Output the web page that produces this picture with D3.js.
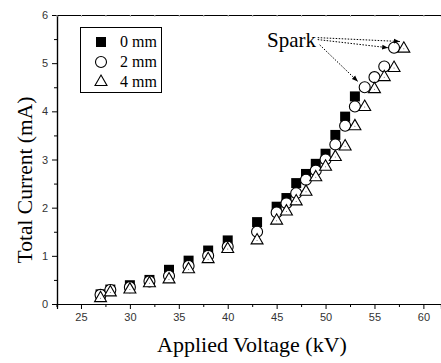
<!DOCTYPE html>
<html>
<head>
<meta charset="utf-8">
<script src="https://cdn.jsdelivr.net/npm/d3@7"></script>
<style>
  body { margin: 0; background: #fff; }
  svg { display: block; }
  .serif { font-family: "Liberation Serif", Tinos, "Times New Roman", Times, serif; }
  .sans { font-family: "Liberation Sans", Arimo, Arial, Helvetica, sans-serif; }
</style>
</head>
<body>
<script>
// applied voltage (kV) and total current (mA) for each gap
var volt0 = [27, 28, 30, 32, 34, 36, 38, 40, 43, 45, 46, 47, 48, 49, 50, 51, 52, 53];
var cur0 = [0.2, 0.3, 0.39, 0.5, 0.71, 0.9, 1.11, 1.32, 1.7, 2.02, 2.2, 2.51, 2.7, 2.91, 3.12, 3.51, 3.89, 4.31];

var volt2 = [27, 28, 30, 32, 34, 36, 38, 40, 43, 45, 46, 47, 48, 49, 50, 51, 52, 53, 54, 55, 56, 57];
var cur2 = [0.19, 0.29, 0.35, 0.47, 0.58, 0.79, 1.0, 1.19, 1.5, 1.9, 2.09, 2.3, 2.58, 2.77, 3.0, 3.31, 3.7, 4.1, 4.5, 4.71, 4.93, 5.32];

var volt4 = [27, 28, 30, 32, 34, 36, 38, 40, 43, 45, 46, 47, 48, 49, 50, 51, 52, 53, 54, 55, 56, 57, 58];
var cur4 = [0.12, 0.24, 0.3, 0.43, 0.51, 0.72, 0.93, 1.14, 1.32, 1.73, 1.92, 2.13, 2.33, 2.63, 2.85, 3.05, 3.27, 3.69, 4.09, 4.46, 4.71, 4.9, 5.3];

var seriesNames = ["0 mm", "2 mm", "4 mm"];
var xTicks = [25, 30, 35, 40, 45, 50, 55, 60];
var yTicks = [0, 1, 2, 3, 4, 5, 6];

var W = 441, H = 363;
var svg = d3.select(document.body).append("svg")
    .attr("width", W)
    .attr("height", H);

var x = d3.scaleLinear().domain([22.55, 61.8]).range([57, 441]);
var y = d3.scaleLinear().domain([0, 6]).range([304, 15]);

// axes
var xAxis = d3.axisBottom(x).tickValues(xTicks).tickSize(5).tickPadding(4).tickFormat(d3.format("d"));
var xMinor = d3.axisBottom(x).tickValues(d3.range(22.5, 62, 2.5).filter(v => v % 5 != 0)).tickSize(3).tickFormat("");
var yAxis = d3.axisLeft(y).tickValues(yTicks).tickSize(5).tickPadding(4).tickFormat(d3.format("d"));
var yMinor = d3.axisLeft(y).tickValues(d3.range(0.5, 6, 1)).tickSize(3).tickFormat("");
var xTop = d3.axisBottom(x).tickValues(d3.range(22.5, 62, 2.5)).tickSize(2).tickFormat("");

svg.append("g").attr("transform", "translate(0,304)").call(xMinor);
var gx = svg.append("g").attr("transform", "translate(0,304)").call(xAxis);
svg.append("g").attr("transform", "translate(57,0)").call(yMinor);
var gy = svg.append("g").attr("transform", "translate(57,0)").call(yAxis);
var gt = svg.append("g").attr("transform", "translate(0,15)").call(xTop);
gt.selectAll(".tick line").attr("stroke", "#bbb");

svg.selectAll("g").attr("font-family", null);
svg.selectAll(".domain").attr("stroke", "#000").attr("stroke-width", 1.2);
svg.selectAll(".tick line").filter(function() { return this.getAttribute("stroke") != "#bbb"; })
    .attr("stroke", "#000");
svg.selectAll(".tick text").attr("class", "sans").attr("font-size", 11).attr("fill", "#333");
gx.selectAll(".tick text").attr("dy", "0.75em");

// axis titles
svg.append("text")
    .attr("class", "serif")
    .attr("x", 252).attr("y", 352)
    .attr("text-anchor", "middle")
    .attr("font-size", 22)
    .text("Applied Voltage (kV)");

svg.append("text")
    .attr("class", "serif")
    .attr("transform", "translate(32,180) rotate(-90)")
    .attr("text-anchor", "middle")
    .attr("font-size", 21.5)
    .text("Total Current (mA)");

// markers
var sq = d3.symbol().type(d3.symbolSquare).size(100);
var tri = d3.symbol().type(d3.symbolTriangle).size(62);

var plot = svg.append("g");

plot.selectAll("path.s0")
    .data(d3.zip(volt0, cur0))
    .join("path")
    .attr("class", "s0")
    .attr("transform", d => "translate(" + x(d[0]) + "," + y(d[1]) + ")")
    .attr("d", sq)
    .attr("fill", "#000");

plot.selectAll("circle.s2")
    .data(d3.zip(volt2, cur2))
    .join("circle")
    .attr("class", "s2")
    .attr("cx", d => x(d[0]))
    .attr("cy", d => y(d[1]))
    .attr("r", 5.5)
    .attr("fill", "#fff")
    .attr("stroke", "#000")
    .attr("stroke-width", 1.1);

var t4 = plot.selectAll("g.s4")
    .data(d3.zip(volt4, cur4))
    .join("g")
    .attr("class", "s4")
    .attr("transform", d => "translate(" + x(d[0]) + "," + y(d[1]) + ")");
t4.append("path")
    .attr("d", tri)
    .attr("fill", "#fff")
    .attr("stroke", "#000")
    .attr("stroke-width", 1.1);
t4.append("circle").attr("r", 0.5).attr("fill", "#555");

// legend
var leg = svg.append("g");
leg.append("rect")
    .attr("x", 80.5).attr("y", 27.5)
    .attr("width", 81).attr("height", 65)
    .attr("fill", "#fff").attr("stroke", "#000");
var rows = [42, 62, 82];
leg.append("path").attr("transform", "translate(101," + rows[0] + ")").attr("d", sq).attr("fill", "#000");
leg.append("circle").attr("cx", 101).attr("cy", rows[1]).attr("r", 5.5)
    .attr("fill", "#fff").attr("stroke", "#000").attr("stroke-width", 1.1);
leg.append("path").attr("transform", "translate(101," + rows[2] + ")").attr("d", tri)
    .attr("fill", "#fff").attr("stroke", "#000").attr("stroke-width", 1.1);
leg.selectAll("text")
    .data(seriesNames)
    .join("text")
    .attr("class", "serif")
    .attr("x", 120)
    .attr("y", (d, i) => rows[i] + 5)
    .attr("font-size", 16)
    .text(d => d);

// "Spark" annotation
svg.append("defs").append("marker")
    .attr("id", "ah")
    .attr("viewBox", "0 0 10 10")
    .attr("refX", 10).attr("refY", 5)
    .attr("markerWidth", 6).attr("markerHeight", 6)
    .attr("orient", "auto")
    .append("path")
    .attr("d", "M0,1L10,5L0,9Z")
    .attr("fill", "#000");

svg.append("text")
    .attr("class", "serif")
    .attr("x", 267).attr("y", 47)
    .attr("font-size", 21)
    .text("Spark");

var arrows = [
    [[49.2, 5.53], [57.6, 5.45]],
    [[49.2, 5.49], [56.4, 5.32]],
    [[49.4, 5.38], [53.3, 4.62]]
];
svg.selectAll("line.arr")
    .data(arrows)
    .join("line")
    .attr("class", "arr")
    .attr("x1", d => x(d[0][0])).attr("y1", d => y(d[0][1]))
    .attr("x2", d => x(d[1][0])).attr("y2", d => y(d[1][1]))
    .attr("stroke", "#000")
    .attr("stroke-width", 1)
    .attr("stroke-dasharray", "1.5,1.5")
    .attr("marker-end", "url(#ah)");
</script>
</body>
</html>
